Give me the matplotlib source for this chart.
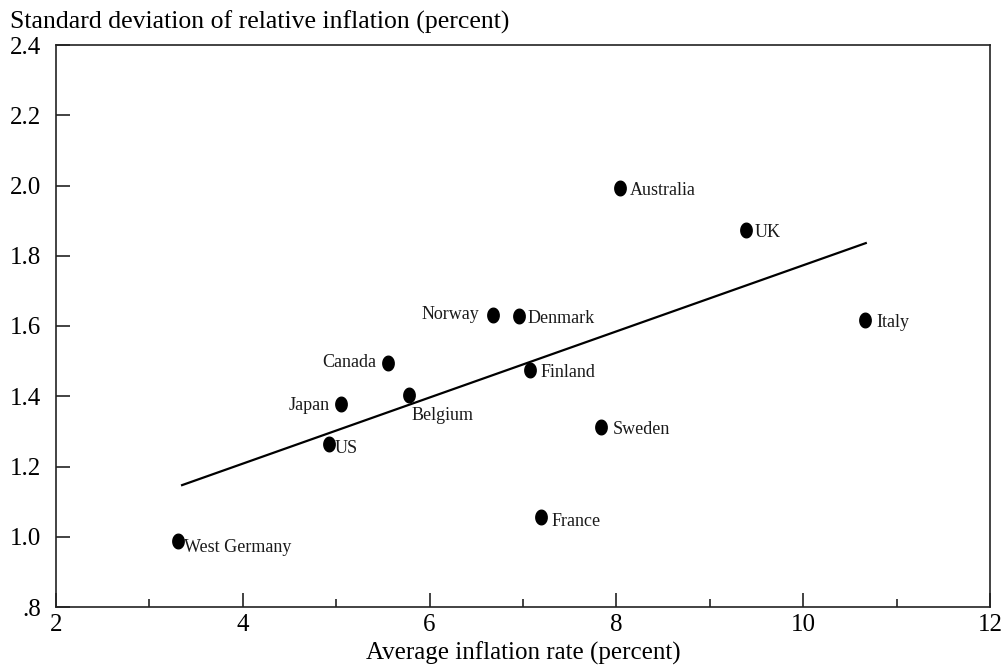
import numpy as np
import matplotlib.pyplot as plt
from matplotlib.ticker import MultipleLocator, FixedLocator

# Data
countries = ['West Germany', 'US', 'Japan', 'Canada', 'Belgium', 'Norway', 'Denmark',
             'Finland', 'France', 'Sweden', 'Australia', 'UK', 'Italy']
avg_inflation = [3.31, 4.92, 5.05, 5.55, 5.78, 6.68, 6.96, 7.07, 7.19, 7.84, 8.04, 9.39, 10.66]
sd_rel_inflation = [0.988, 1.264, 1.378, 1.495, 1.404, 1.632, 1.629, 1.475, 1.056, 1.312, 1.993, 1.873, 1.617]

# fitted line endpoints
fit_x = [3.35, 10.67]
fit_y = [1.147, 1.836]

yticks = [0.8, 1.0, 1.2, 1.4, 1.6, 1.8, 2.0, 2.2, 2.4]
ytick_labels = ['.8', '1.0', '1.2', '1.4', '1.6', '1.8', '2.0', '2.2', '2.4']

# label placement (offset in points, alignment)
label_pos = {
    'West Germany': ((4, -5), 'left'),
    'US': ((4, -3), 'left'),
    'Japan': ((-8, -1), 'right'),
    'Canada': ((-8, 0), 'right'),
    'Belgium': ((2, -15), 'left'),
    'Norway': ((-10, 0), 'right'),
    'Denmark': ((6, -2), 'left'),
    'Finland': ((8, -2), 'left'),
    'France': ((8, -3), 'left'),
    'Sweden': ((8, -2), 'left'),
    'Australia': ((7, -2), 'left'),
    'UK': ((6, -2), 'left'),
    'Italy': ((8, -2), 'left'),
}

plt.rcParams['font.family'] = ['Liberation Serif', 'DejaVu Serif']

# slightly tall oval marker like the original
t = np.linspace(0, 2 * np.pi, 40)
oval = np.column_stack([0.78 * np.cos(t), np.sin(t)])

fig = plt.figure(figsize=(10.08, 6.69), dpi=100)
ax = fig.add_axes([56 / 1008, 1 - 607 / 669, (990 - 56) / 1008, (607 - 45) / 669])

ax.plot(fit_x, fit_y, color='black', lw=1.6, zorder=2)
ax.plot(avg_inflation, sd_rel_inflation, ls='none', marker=oval, ms=10.5,
        color='black', zorder=3)

for name, x, y in zip(countries, avg_inflation, sd_rel_inflation):
    off, ha = label_pos[name]
    ax.annotate(name, (x, y), xytext=off, textcoords='offset points',
                ha=ha, va='center', fontsize=13, color='#1a1a1a')

ax.set_xlim(2, 12)
ax.set_ylim(0.8, 2.4)
ax.xaxis.set_major_locator(MultipleLocator(2))
ax.xaxis.set_minor_locator(FixedLocator([3, 5, 7, 9, 11]))
ax.set_yticks(yticks)
ax.set_yticklabels(ytick_labels)

ax.tick_params(axis='both', which='major', direction='in', length=10, width=1.2,
               labelsize=18, color='#222222')
ax.tick_params(axis='x', which='minor', direction='in', length=6, width=1.2, color='#222222')
ax.tick_params(axis='y', pad=11)
ax.tick_params(axis='x', pad=5)
for s in ax.spines.values():
    s.set_linewidth(1.2)
    s.set_color('#222222')

ax.set_xlabel('Average inflation rate (percent)', fontsize=18, labelpad=4)
fig.text(10 / 1008, 1 - 22 / 669, 'Standard deviation of relative inflation (percent)',
         fontsize=18.5, ha='left', va='center')

fig.savefig('out.png', dpi=100)
